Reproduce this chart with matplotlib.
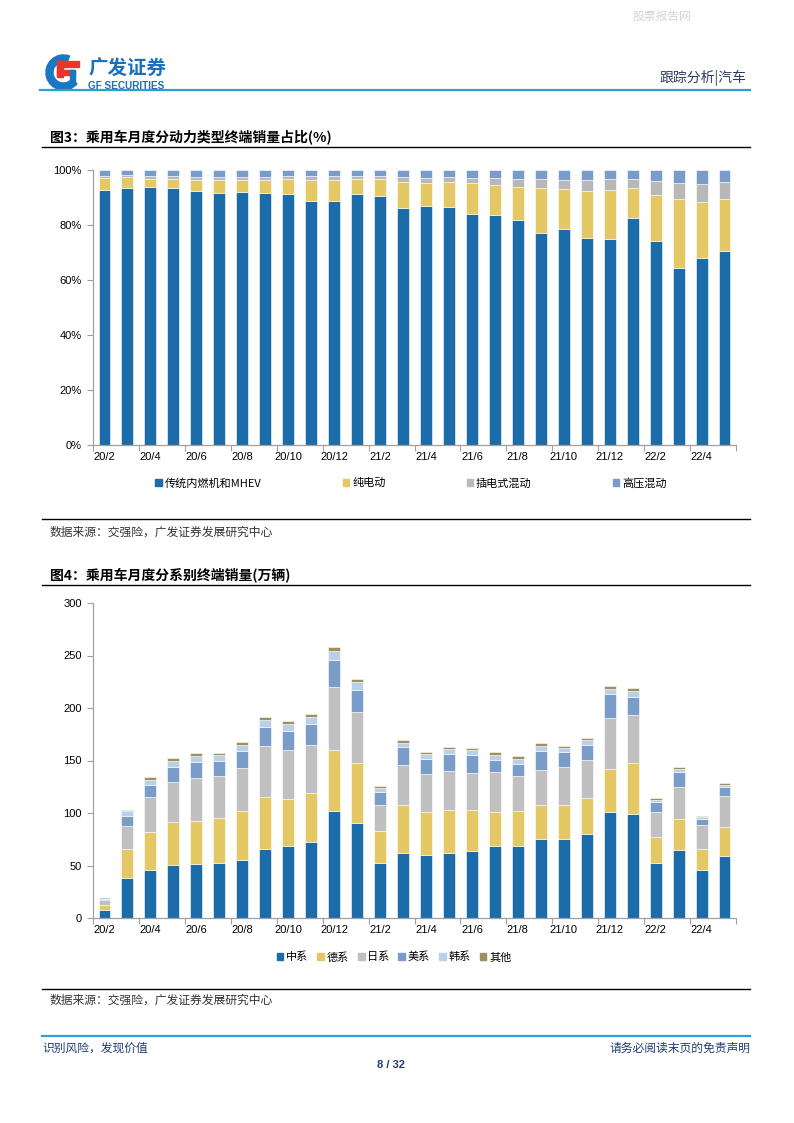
import numpy as np
import matplotlib
matplotlib.use("Agg")
import matplotlib.pyplot as plt
from matplotlib.lines import Line2D
from matplotlib.patches import Wedge, Rectangle, Patch

plt.rcParams['font.family'] = ['Liberation Sans', 'Noto Sans CJK SC', 'DejaVu Sans']

# ---- data ----
months = ['20/2', '20/3', '20/4', '20/5', '20/6', '20/7', '20/8', '20/9', '20/10', '20/11', '20/12',
          '21/1', '21/2', '21/3', '21/4', '21/5', '21/6', '21/7', '21/8', '21/9', '21/10', '21/11', '21/12',
          '22/1', '22/2', '22/3', '22/4', '22/5']

# chart 1: share by powertrain (%)
ice = [92.9, 93.6, 94.0, 93.4, 92.5, 91.8, 91.9, 91.6, 91.1, 88.6, 88.9, 91.4, 90.4, 86.1,
       86.9, 86.4, 84.0, 83.6, 82.0, 77.1, 78.7, 75.1, 74.8, 82.5, 74.3, 64.2, 68.1, 70.4]
bev = [4.3, 3.7, 2.9, 3.5, 4.0, 4.7, 4.6, 4.8, 5.6, 7.8, 7.5, 5.3, 6.5, 9.7,
       8.5, 9.3, 11.1, 10.9, 11.7, 16.4, 14.4, 17.2, 18.1, 11.0, 16.7, 25.2, 20.3, 18.9]
phev = [0.7, 0.9, 0.9, 0.8, 1.1, 1.1, 1.1, 1.2, 1.1, 1.4, 1.4, 1.1, 0.9, 1.8,
        1.8, 1.6, 2.1, 2.7, 3.2, 3.2, 3.4, 4.1, 3.8, 3.4, 5.0, 5.9, 6.5, 6.4]
hev = [2.1, 1.8, 2.2, 2.3, 2.4, 2.4, 2.4, 2.4, 2.2, 2.2, 2.2, 2.2, 2.2, 2.4,
       2.8, 2.7, 2.8, 2.8, 3.1, 3.3, 3.5, 3.6, 3.3, 3.1, 4.0, 4.7, 5.1, 4.3]
power_names = ['传统内燃机和MHEV', '纯电动', '插电式混动', '高压混动']

# chart 2: sales by brand origin (万辆)
cn = [8.0, 37.9, 45.5, 50.3, 51.2, 52.2, 55.7, 65.5, 68.4, 72.2, 101.5, 90.7, 52.2, 62.0,
      59.8, 62.0, 64.0, 68.1, 68.4, 75.7, 75.7, 80.2, 100.5, 98.9, 52.5, 64.9, 45.8, 59.2]
de = [4.7, 28.0, 36.6, 41.3, 41.1, 42.6, 45.8, 49.4, 45.2, 46.8, 58.2, 56.9, 30.5, 45.2,
      41.4, 41.1, 38.4, 32.4, 33.1, 31.5, 31.5, 34.3, 41.7, 49.0, 24.2, 29.0, 20.1, 27.7]
jp = [4.2, 21.9, 32.8, 38.2, 40.7, 40.4, 41.4, 49.3, 46.4, 46.1, 60.2, 48.7, 24.8, 38.5,
      36.2, 36.9, 35.7, 38.2, 33.7, 33.8, 36.6, 36.3, 48.7, 45.2, 24.2, 30.5, 22.6, 29.2]
us = [0.9, 9.6, 11.7, 14.3, 15.9, 14.7, 16.2, 18.1, 18.5, 20.1, 25.4, 21.3, 12.1, 16.9,
      14.4, 15.9, 17.2, 12.1, 11.8, 18.1, 14.0, 14.3, 22.0, 17.8, 9.2, 15.0, 6.0, 8.9]
kr = [1.9, 4.4, 5.1, 5.4, 5.4, 5.0, 5.7, 6.4, 6.4, 6.7, 9.2, 7.4, 3.8, 3.8,
      4.1, 4.8, 4.4, 4.8, 4.4, 5.1, 4.5, 4.5, 5.4, 5.5, 2.5, 2.2, 1.6, 1.6]
other = [0.6, 1.0, 2.3, 2.5, 2.6, 2.6, 2.6, 2.8, 2.5, 2.8, 3.5, 2.8, 2.0, 2.9,
         2.2, 2.2, 2.6, 2.2, 2.6, 2.2, 1.9, 2.2, 2.8, 2.8, 1.3, 1.9, 1.3, 1.9]
origin_names = ['中系', '德系', '日系', '美系', '韩系', '其他']

BLUE = '#1b6ca8'
YELLOW = '#e5c866'
GRAY1 = '#b8b8b8'
GRAY2 = '#c0c0c0'
MIDBLUE = '#7a9cc8'
LIGHTBLUE = '#b9d0ea'
OLIVE = '#9c9060'
NAVY = '#1f3d73'

W, H = 794, 1123
fig = plt.figure(figsize=(W / 100, H / 100), dpi=100)


def fx(x):
    return x / W


def fy(y):
    return 1 - y / H


def hline(y, x0=42, x1=750, color='black', lw=1.0):
    fig.add_artist(Line2D([fx(x0), fx(x1)], [fy(y), fy(y)], transform=fig.transFigure,
                          color=color, lw=lw))


def axes_px(left, top, right, bottom):
    return fig.add_axes([fx(left), fy(bottom), (right - left) / W, (bottom - top) / H])


def style_axes(ax, n):
    for s in ['top', 'right']:
        ax.spines[s].set_visible(False)
    for s in ['left', 'bottom']:
        ax.spines[s].set_color('#a0a0a0')
        ax.spines[s].set_linewidth(0.9)
    ax.set_xlim(-0.5, n - 0.5)
    ax.set_xticks(np.arange(-0.5, n, 2))
    ax.set_xticklabels([])
    ax.set_xticks(np.arange(0, n, 2), minor=True)
    ax.set_xticklabels(months[::2], minor=True, fontsize=8)
    ax.tick_params(axis='x', which='major', length=4, color='#a0a0a0', direction='out')
    ax.tick_params(axis='x', which='minor', length=0, pad=5)
    ax.tick_params(axis='y', length=4, color='#a0a0a0', labelsize=8, pad=4)


# ---- header ----
fig.text(fx(662), fy(16), '股票报告网', fontsize=8.5, color='#d4d4d4', ha='center', va='center',
         family=['Noto Sans CJK SC'])

logo = axes_px(45, 54, 82, 91)
logo.set_xlim(-1, 1)
logo.set_ylim(-1, 1)
logo.set_aspect('equal')
logo.axis('off')
logo.add_patch(Wedge((0, 0), 0.95, 70, 320, width=0.38, color='#1a78c2'))
logo.add_patch(Rectangle((-0.35, 0.3), 1.2, 0.32, color='#e8362d'))
logo.add_patch(Rectangle((-0.35, -0.25), 0.32, 0.85, color='#e8362d'))
logo.add_patch(Rectangle((-0.35, -0.12), 0.95, 0.28, color='#e8362d'))
logo.add_patch(Rectangle((0.35, -0.55), 0.28, 0.7, color='#1a78c2'))

fig.text(fx(88), fy(69), '广发证券', fontsize=14, fontweight='bold', color='#1a6fbf',
         ha='left', va='center', family=['Noto Sans CJK SC'])
fig.text(fx(88), fy(86), 'GF SECURITIES', fontsize=7.2, fontweight='bold', color='#1a6fbf',
         ha='left', va='center')
fig.text(fx(746), fy(78), '跟踪分析|汽车', fontsize=10, color='#2e3a5e', ha='right', va='center',
         family=['Noto Sans CJK SC'])
hline(90, 40, 750, color='#2a9fd8', lw=1.6)

# ---- figure 3 ----
fig.text(fx(50), fy(137), '图3：乘用车月度分动力类型终端销量占比(%)', fontsize=10,
         fontweight='bold', ha='left', va='center', family=['Noto Sans CJK SC'])
hline(147)

n = len(months)
x = np.arange(n)
ax1 = axes_px(93, 170, 736, 445)
colors1 = [BLUE, YELLOW, GRAY1, MIDBLUE]
bottom = np.zeros(n)
for vals, c, name in zip([ice, bev, phev, hev], colors1, power_names):
    ax1.bar(x, vals, width=0.52, bottom=bottom, color=c, edgecolor='white', linewidth=0.4, label=name)
    bottom += np.array(vals)
ax1.set_ylim(0, 100)
ax1.set_yticks(np.arange(0, 101, 20))
ax1.set_yticklabels([f'{v}%' for v in range(0, 101, 20)])
style_axes(ax1, n)

handles1 = [Patch(color=c, label=nm) for c, nm in zip(colors1, power_names)]
fig.legend(handles=handles1, loc='center', bbox_to_anchor=(fx(411), fy(483)), ncol=4,
           frameon=False, handlelength=0.6, handleheight=0.6, handletextpad=0.25,
           columnspacing=7.3, prop={'family': ['Noto Sans CJK SC'], 'size': 8})

hline(519)
fig.text(fx(50), fy(532), '数据来源：交强险，广发证券发展研究中心', fontsize=8.5, color='#333333',
         ha='left', va='center', family=['Noto Sans CJK SC'])

# ---- figure 4 ----
fig.text(fx(50), fy(575), '图4：乘用车月度分系别终端销量(万辆)', fontsize=10,
         fontweight='bold', ha='left', va='center', family=['Noto Sans CJK SC'])
hline(585)

ax2 = axes_px(93, 603, 736, 918)
colors2 = [BLUE, YELLOW, GRAY2, MIDBLUE, LIGHTBLUE, OLIVE]
bottom = np.zeros(n)
for vals, c, name in zip([cn, de, jp, us, kr, other], colors2, origin_names):
    ax2.bar(x, vals, width=0.52, bottom=bottom, color=c, edgecolor='white', linewidth=0.4, label=name)
    bottom += np.array(vals)
ax2.set_ylim(0, 300)
ax2.set_yticks(np.arange(0, 301, 50))
style_axes(ax2, n)

handles2 = [Patch(color=c, label=nm) for c, nm in zip(colors2, origin_names)]
fig.legend(handles=handles2, loc='center', bbox_to_anchor=(fx(394), fy(957)), ncol=6,
           frameon=False, handlelength=0.6, handleheight=0.6, handletextpad=0.25,
           columnspacing=0.8, prop={'family': ['Noto Sans CJK SC'], 'size': 8})

hline(989)
fig.text(fx(50), fy(1000), '数据来源：交强险，广发证券发展研究中心', fontsize=8.5, color='#333333',
         ha='left', va='center', family=['Noto Sans CJK SC'])

# ---- footer ----
hline(1036, 42, 750, color='#2a9fd8', lw=1.6)
fig.text(fx(42), fy(1048), '识别风险，发现价值', fontsize=8.5, color=NAVY, ha='left', va='center',
         family=['Noto Sans CJK SC'])
fig.text(fx(750), fy(1048), '请务必阅读末页的免责声明', fontsize=8.5, color=NAVY, ha='right',
         va='center', family=['Noto Sans CJK SC'])
fig.text(fx(391), fy(1065), '8 / 32', fontsize=8, fontweight='bold', color=NAVY, ha='center',
         va='center')

fig.savefig('out.png', dpi=100)
